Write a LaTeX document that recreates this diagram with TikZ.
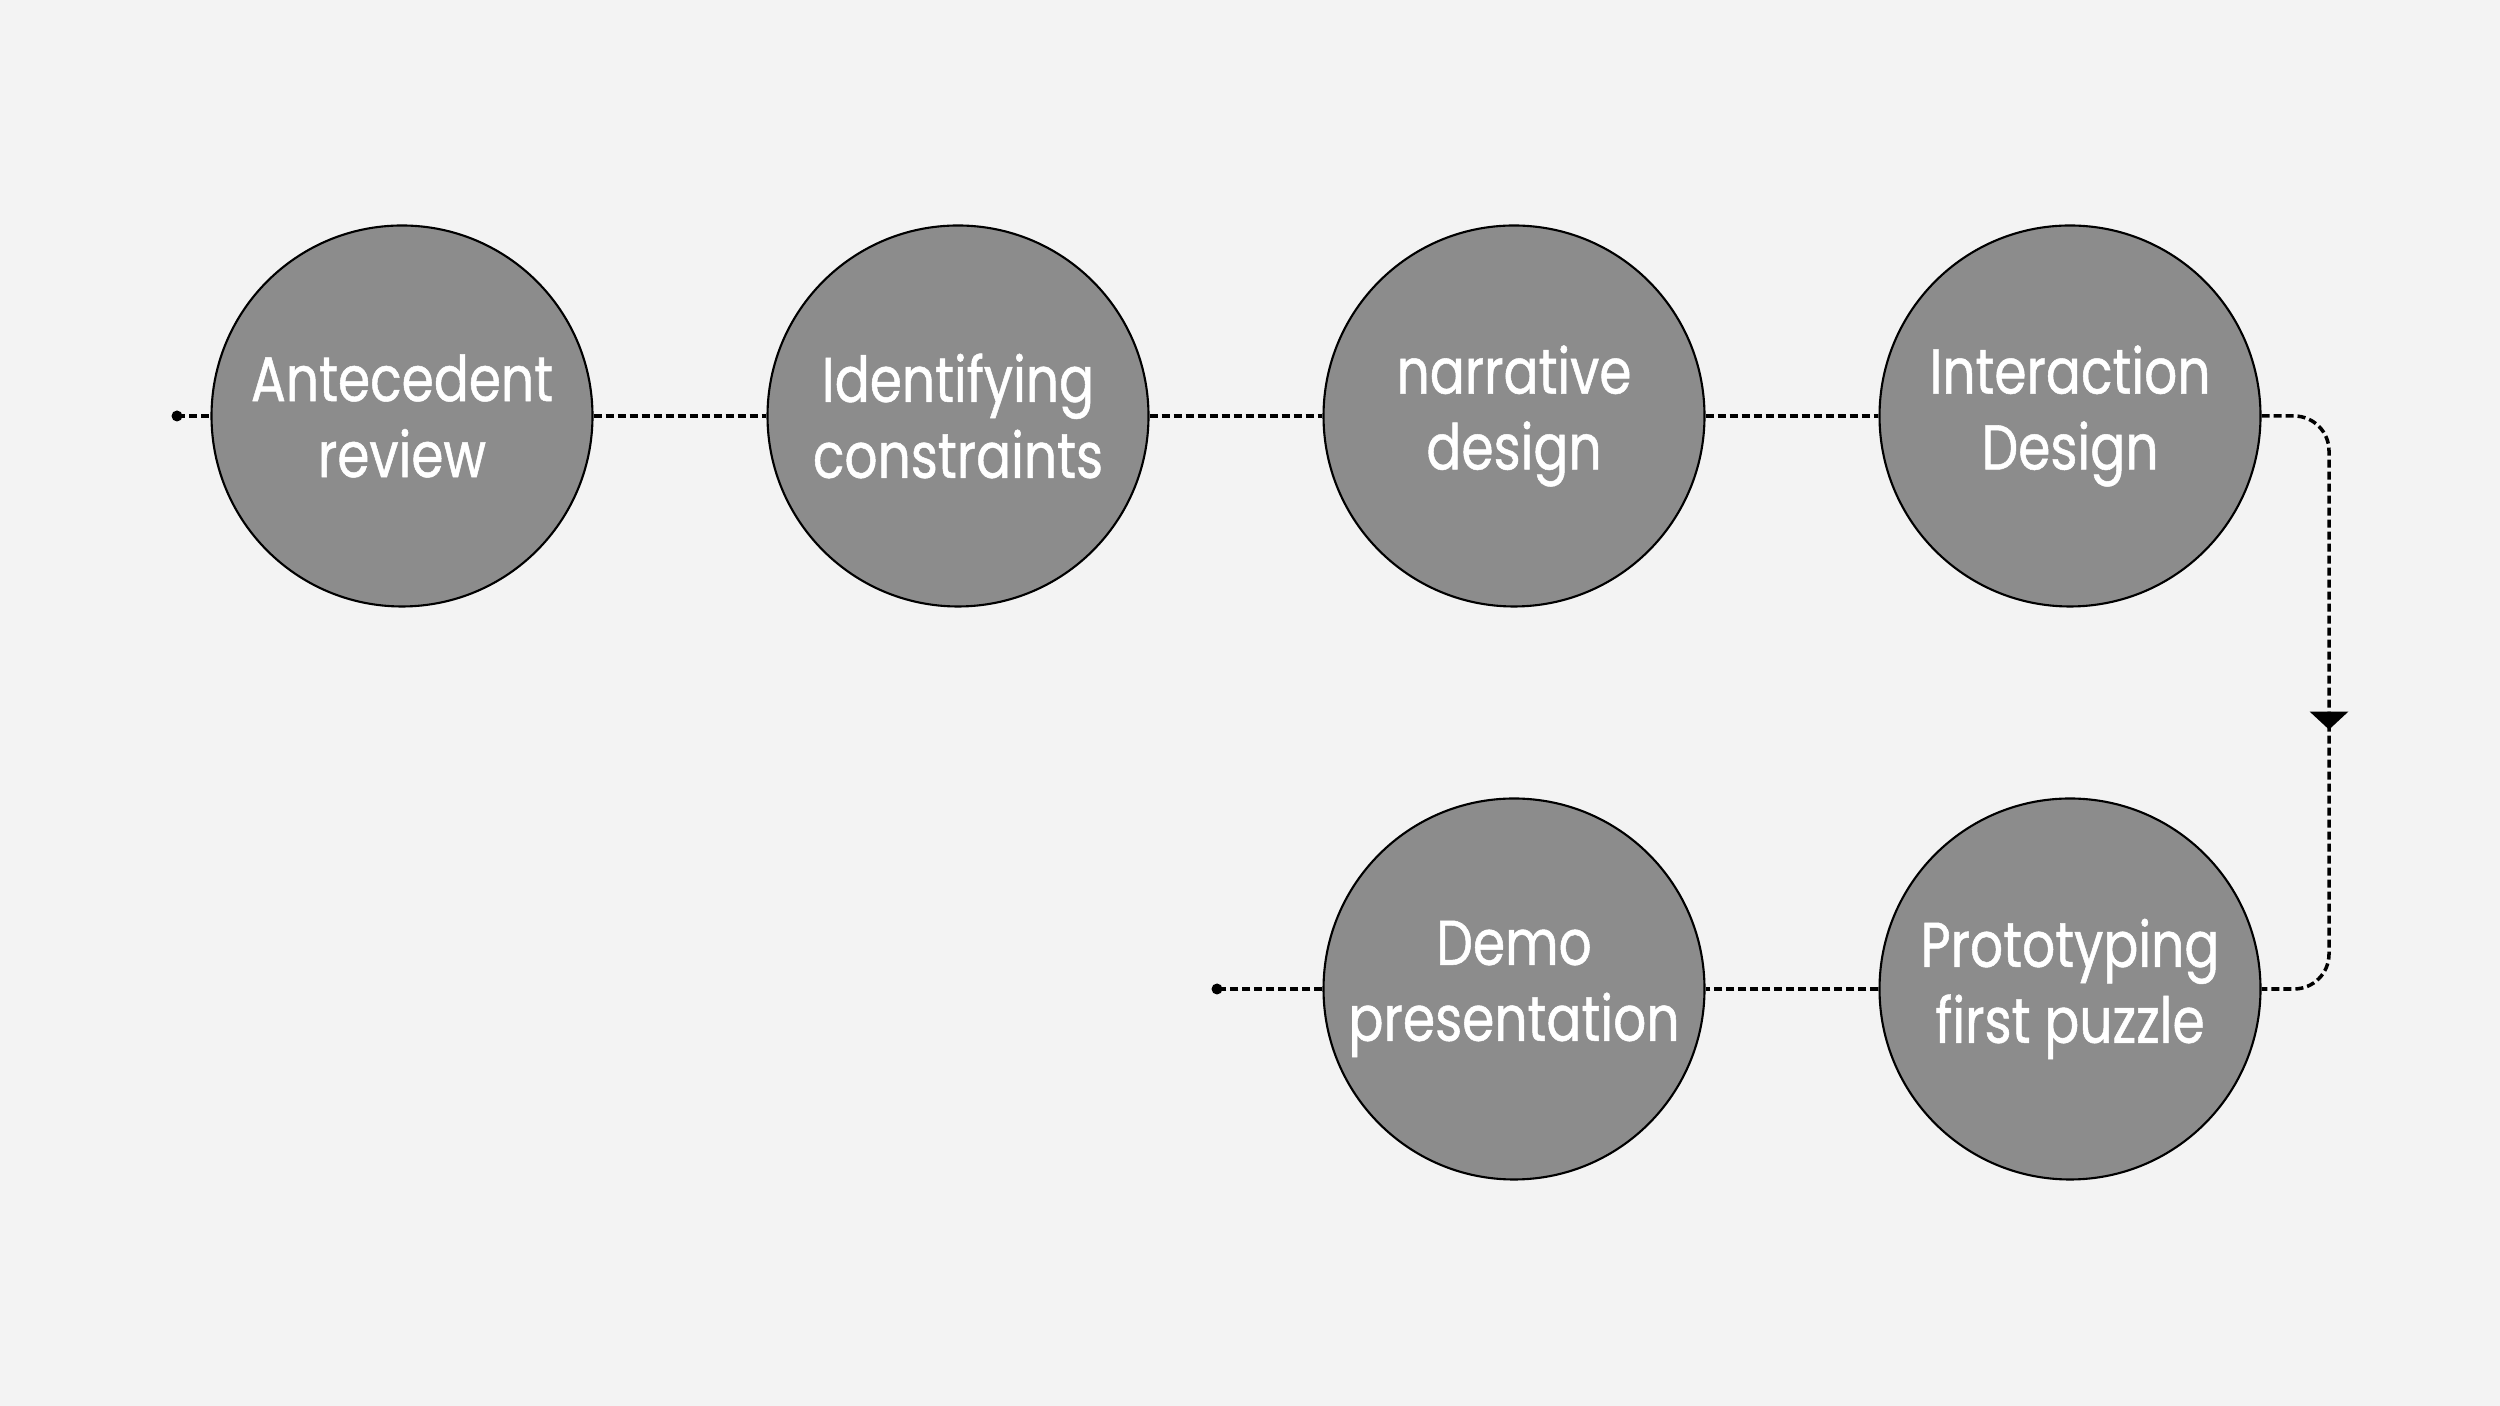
\documentclass[tikz,border=0pt]{standalone}
\usepackage{fontspec}
\setmainfont{Poppins}[FakeStretch=0.82,FakeBold=0.8,
  UprightFeatures={FakeBold=0.8}]
\usetikzlibrary{arrows.meta,decorations.markings}
\definecolor{bgcol}{HTML}{F3F3F3}
\definecolor{stepgray}{HTML}{8C8C8C}
\begin{document}
\begin{tikzpicture}[
    stage/.style={circle,draw,line width=0.6pt,fill=stepgray,minimum size=3.81cm,
      inner sep=0pt,text=white,align=center,font=\fontsize{18}{21.6}\selectfont},
    link/.style={line width=1pt,dash pattern=on 0.08cm off 0.04cm}]
        \fill[bgcol] (0,0) rectangle (25,14.06);
        \node[stage] (ante) at (4.02,9.9) {Antecedent\\review};
        \node[stage] (ident) at (9.58,9.9) {Identifying\\constraints};
        \node[stage] (narr) at (15.14,9.9) {narrative\\design};
        \node[stage] (inter) at (20.70,9.9) {Interaction\\Design};
        \node[stage] (proto) at (20.70,4.17) {Prototyping\\first puzzle};
        \node[stage] (demo) at (15.14,4.17) {Demo\\presentation};
        \fill (1.77,9.9) circle (0.055) coordinate (start);
        \fill (12.17,4.17) circle (0.055) coordinate (stop);
        \draw[link] (start) -- (ante) (ante) -- (ident) (ident) -- (narr) (narr) -- (inter);
        \draw[link] (proto) -- (demo) (demo) -- (stop);
        \draw[link,rounded corners=0.35cm,postaction={decorate,decoration={markings,
            mark=at position 0.54 with {\arrow{Triangle[width=0.38cm,length=0.18cm]}}}}]
          (inter.east) -| (23.29,7) |- (proto.east);
\end{tikzpicture}
\end{document}
